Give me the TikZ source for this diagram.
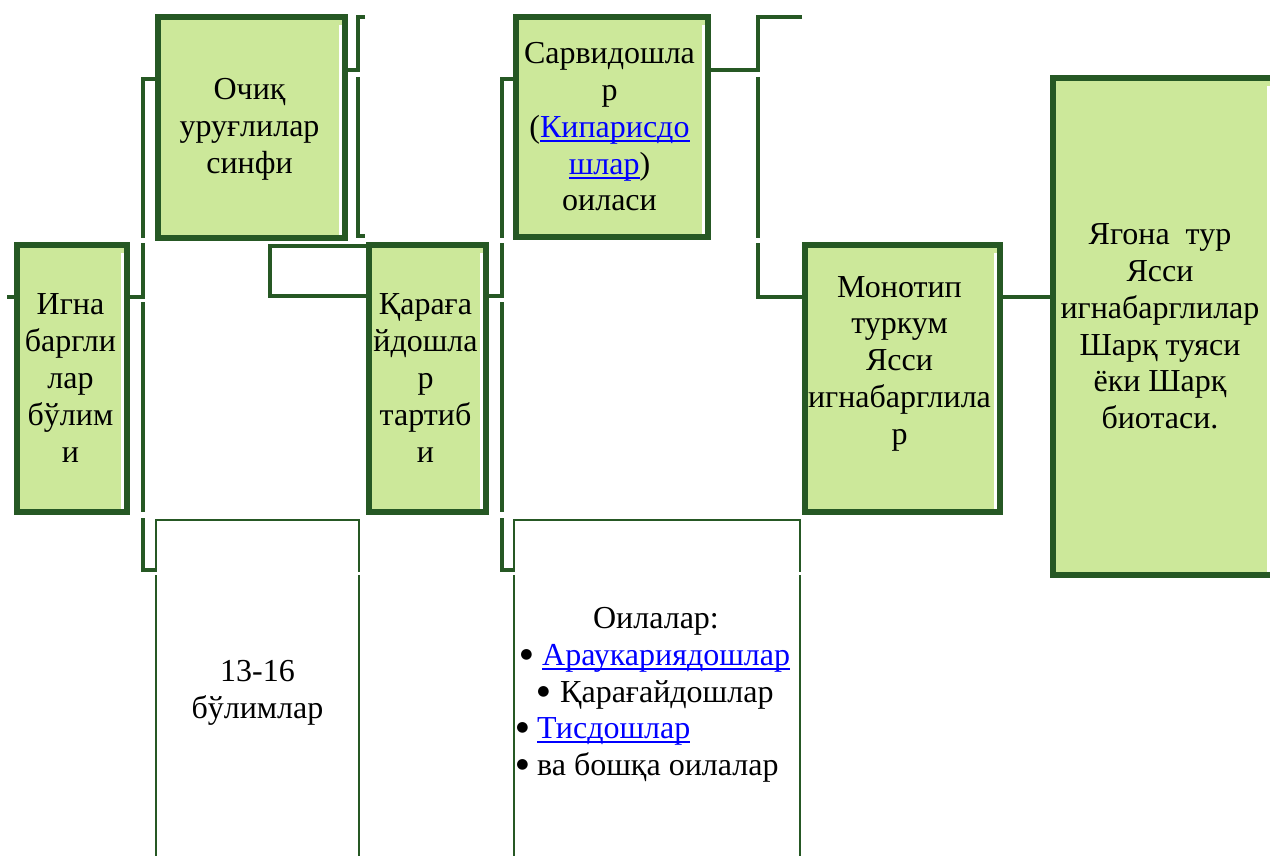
\documentclass[tikz,border=0pt]{standalone}
\usepackage{fontspec}
\setmainfont{Liberation Serif}
\newfontfamily\symfont{DejaVu Sans}
\definecolor{dkgreen}{RGB}{38,88,36}
\definecolor{ltgreen}{RGB}{204,232,154}
\definecolor{linkblue}{RGB}{0,0,255}
\newcommand\mylink[1]{\textcolor{linkblue}{\setbox0\hbox{#1}\rlap{\rule[-5pt]{\wd0}{2pt}}\box0}}
\tikzset{
  box/.style={draw=dkgreen, line width=6pt, fill=ltgreen, rectangle, inner sep=0pt, outer sep=0pt},
  thinbox/.style={draw=dkgreen, line width=2pt, rectangle, inner sep=0pt, outer sep=0pt},
  wire/.style={draw=dkgreen, line width=4pt},
  txt/.style={font=\fontsize{32}{36.8}\selectfont, align=center, inner sep=0pt},
  bul/.style={font=\symfont\fontsize{14}{14}\selectfont, inner sep=0pt, anchor=base},
}
\begin{document}
\begin{tikzpicture}[x=1pt, y=-1pt]
\path[clip] (0,0) rectangle (1270,856);
\fill[white] (0,0) rectangle (1270,856);

% thin boxes
\node[thinbox, minimum width=203pt, minimum height=380pt] (G) at (257.5,710) {};
\node[thinbox, minimum width=286pt, minimum height=380pt] (H) at (657,710) {};
\foreach \xx in {156,359,514,800} \fill[white] (\xx-2,571.5) rectangle (\xx+2,574.5);

% green boxes
\node[box, minimum width=110pt, minimum height=267pt] (A) at (72,378.5) {};
\node[box, minimum width=187pt, minimum height=221pt] (B) at (251.5,127.5) {};
\node[box, minimum width=117pt, minimum height=267pt] (C) at (427.5,378.5) {};
\node[box, minimum width=192pt, minimum height=220pt] (D) at (612,127) {};
\node[box, minimum width=195pt, minimum height=267pt] (E) at (902.5,378.5) {};
\node[box, minimum width=220pt, minimum height=497pt] (F) at (1163,326.5) {};
\foreach \n in {A,B,C,D,E,F}
  \fill[white] ([xshift=-6.5pt,yshift=-8pt]\n.north east) rectangle ([xshift=-3pt,yshift=3pt]\n.south east);

% connectors / brackets
\draw[wire] (A.west |- 0,296.5) -- (7,296.5);
\draw[wire] (B.west |- 0,79) -- (142.5,79) -- (142.5,238);
\draw[wire] (142.5,243) -- (142.5,296.5) -- (A.east |- 0,296.5);
\draw[wire] (142.5,302) -- (142.5,512);
\draw[wire] (142.5,518) -- (142.5,569.5) -- (G.west |- 0,569.5);

\draw[wire] (365,17) -- (357.5,17) -- (357.5,70) -- (B.east |- 0,70);
\draw[wire] (357.5,77) -- (357.5,236) -- (365,236);

\draw[wire] (C.west |- 0,246) -- (270,246) -- (270,296) -- (C.west |- 0,296);

\draw[wire] (D.west |- 0,79) -- (501.5,79) -- (501.5,238);
\draw[wire] (501.5,243) -- (501.5,295.5) -- (C.east |- 0,295.5);
\draw[wire] (501.5,302) -- (501.5,512);
\draw[wire] (501.5,518) -- (501.5,569.5) -- (H.west |- 0,569.5);

\draw[wire] (E.west |- 0,17) ++(-3,0) -- (757.5,17) -- (757.5,70) -- (D.east |- 0,70);
\draw[wire] (757.5,77) -- (757.5,238);
\draw[wire] (757.5,243) -- (757.5,297) -- (E.west |- 0,297);
\draw[wire] (E.east |- 0,297) -- (F.west |- 0,297);

% texts
\node[txt] (tA) at (70.5,378.1) {Игна\\баргли\\лар\\бўлим\\и};
\node[txt] (tB) at (249.5,129.6) {Очиқ\\уруғлилар\\синфи};
\node[txt] (tC) at (425.5,378.1) {Қарағa\\йдошла\\р\\тартиб\\и};
\node[txt] (tD) at (609.5,126.9) {Сарвидошла\\р\\(\mylink{Кипарисдо}\\\mylink{шлар})\\оиласи};
\node[txt] (tE) at (899.5,363.6) {Монотип\\туркум\\Ясси\\игнабарглила\\р};
\node[txt] (tF) at (1160,326.5) {Ягона\ \ тур\\Ясси\\игнабарглилар\\Шарқ туяси\\ёки Шарқ\\биотаси.};
\node[txt] (tG) at (257.5,693.1) {13-16\\бўлимлар};

\node[txt, anchor=base] (h0) at (656,628) {Оилалар:};
\node[bul] (b1) at (526.5,658.5) {●};
\node[txt, anchor=base west] (h1) at (542,665) {\mylink{Араукариядошлар}};
\node[bul] (b2) at (543.5,695.5) {●};
\node[txt, anchor=base west] (h2) at (560,702) {Қарағайдошлар};
\node[bul] (b3) at (522.5,731.5) {●};
\node[txt, anchor=base west] (h3) at (537,738) {\mylink{Тисдошлар}};
\node[bul] (b4) at (522.5,768.5) {●};
\node[txt, anchor=base west] (h4) at (537,775) {ва бошқа оилалар};
\end{tikzpicture}
\end{document}
